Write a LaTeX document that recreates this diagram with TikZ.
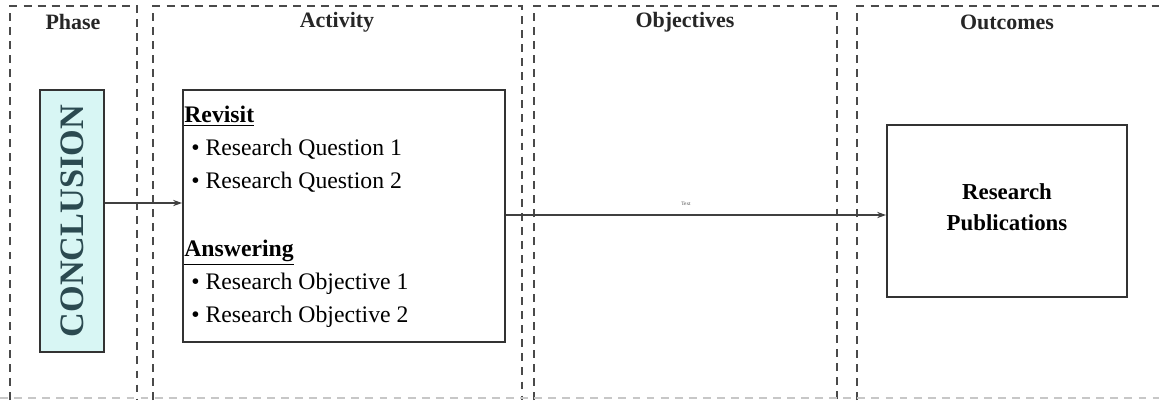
\documentclass[tikz,border=0pt]{standalone}
\usepackage{fontspec}
\setmainfont{Liberation Serif}
\usetikzlibrary{arrows.meta,positioning}

\definecolor{panelgray}{HTML}{4A4A4A}
\definecolor{conclfill}{HTML}{D8F6F4}
\definecolor{concltext}{HTML}{2B4A50}

\begin{document}
\begin{tikzpicture}[x=0.02cm, y=-0.02cm,
    panel/.style={dash pattern=on 4.5pt off 3.5pt, line width=0.7pt, draw=panelgray},
    header/.style={font=\fontsize{12.5}{14}\selectfont\bfseries, text=black!85},
    stagebox/.style={draw=black!80, line width=1.1pt, inner sep=0pt},
    flow/.style={-{Stealth[length=5pt,width=3.5pt]}, line width=0.9pt, draw=black!75}]
    \useasboundingbox (0,0) rectangle (1159,400);

    % Columns (dashed frames)
    \draw[panel] (10,400) -- (10,6) -- (137,6) -- (137,400);
    \draw[panel] (153,400) -- (153,6) -- (522,6) -- (522,400);
    \draw[panel] (534,400) -- (534,6) -- (837,6) -- (837,400);
    \draw[panel] (857,400) -- (857,6) -- (1165,6);
    \draw[panel, draw=black!22] (0,398) -- (1159,398);

    % Column titles
    \node[header] (hphase) at (73,22) {Phase};
    \node[header] (hact) at (337,22) {Activity};
    \node[header] (hobj) at (685,22) {Objectives};
    \node[header] (hout) at (1007,22) {Outcomes};

    % Phase box
    \node[stagebox, fill=conclfill, minimum width=64*0.02cm, minimum height=262*0.02cm]
        (phase) at (72,221) {};
    \node[rotate=90, text=concltext, font=\fontsize{19.5}{19.5}\selectfont\bfseries]
        (phaselbl) at (phase.center) {CONCLUSION};

    % Activity box
    \node[stagebox, fill=white, minimum width=322*0.02cm, minimum height=252*0.02cm]
        (act) at (344,216) {};
    \node[anchor=north west, align=left, inner sep=0pt, font=\fontsize{13.5}{18.7}\selectfont]
        (acttext) at (184,106) {\textbf{\underline{Revisit}}\\
        \hspace*{4pt}\textbullet\ Research Question 1\\
        \hspace*{4pt}\textbullet\ Research Question 2\\[20pt]
        \textbf{\underline{Answering}}\\
        \hspace*{4pt}\textbullet\ Research Objective 1\\
        \hspace*{4pt}\textbullet\ Research Objective 2};

    % Outcome box
    \node[stagebox, fill=white, minimum width=240*0.02cm, minimum height=172*0.02cm]
        (pubs) at (1007,211) {};
    \node[align=center, font=\fontsize{13}{17.5}\selectfont\bfseries]
        (pubslbl) at (1007,207) {Research\\Publications};

    % Flow
    \coordinate (actin) at (act.west |- 0,203);
    \coordinate (actout) at (act.east |- 0,215);
    \draw[flow] (phase.east |- actin) -- (actin);
    \draw[flow] (actout) -- (pubs.west |- actout);
    \node[font=\fontsize{3}{3}\selectfont, text=black!70] (tiny) at (686,204) {Text};
\end{tikzpicture}
\end{document}
